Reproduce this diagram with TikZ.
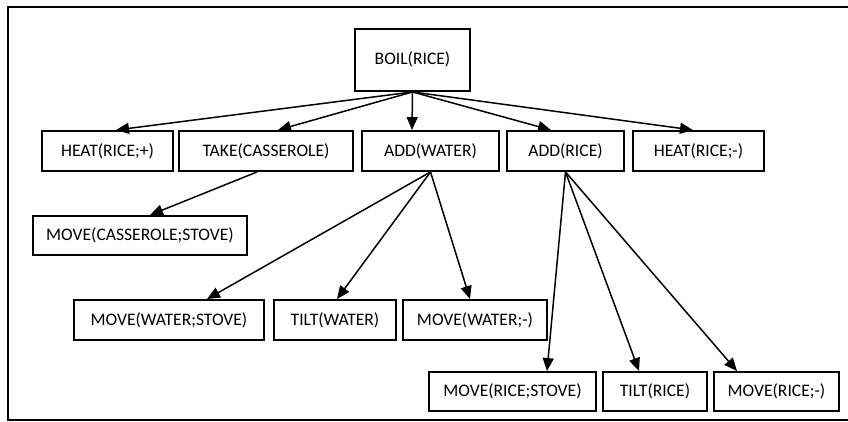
\documentclass[tikz,border=0pt]{standalone}
\usepackage{fontspec}
\setmainfont{Carlito}
\usetikzlibrary{arrows.meta}
\tikzset{>={Triangle[length=0.26cm,width=0.22cm]}}
\tikzset{blk/.style={draw, line width=1.1pt, inner sep=0pt, minimum height=0.8cm, font=\fontsize{10}{12}\selectfont}}

\begin{document}
\begin{tikzpicture}[x=0.02cm, y=-0.02cm]
     \useasboundingbox (0,0) rectangle (848,422);
     \draw[line width=1.1pt] (8,7) rectangle (870,420);
     % top
     \node[blk, minimum width=2.3cm, minimum height=0cm, text height=0.72cm, text depth=0.52cm] (boil) at (412.5,60) {BOIL(RICE)};
     % first row
     \node[blk, minimum width=2.62cm] (heatp) at (107.5,151) {HEAT(RICE;+)};
     \node[blk, minimum width=3.48cm] (take) at (266,151) {TAKE(CASSEROLE)};
     \node[blk, minimum width=2.74cm] (addw) at (430.5,151) {ADD(WATER)};
     \node[blk, minimum width=2.34cm] (addr) at (565.5,151) {ADD(RICE)};
     \node[blk, minimum width=2.62cm] (heatm) at (698.5,151) {HEAT(RICE;-)};
     % second row
     \node[blk, minimum width=4.28cm, minimum height=0.78cm] (movec) at (140,235.5) {MOVE(CASSEROLE;STOVE)};
     % third row
     \node[blk, minimum width=3.8cm] (movews) at (169,320) {MOVE(WATER;STOVE)};
     \node[blk, minimum width=2.44cm] (tiltw) at (335,320) {TILT(WATER)};
     \node[blk, minimum width=2.88cm] (movewm) at (475,320) {MOVE(WATER;-)};
     % fourth row
     \node[blk, minimum width=3.34cm, minimum height=0.78cm] (movers) at (512.5,391.5) {MOVE(RICE;STOVE)};
     \node[blk, minimum width=2.08cm, minimum height=0.78cm] (tiltr) at (655,391.5) {TILT(RICE)};
     \node[blk, minimum width=2.5cm, minimum height=0.78cm] (moverm) at (776.5,391.5) {MOVE(RICE;-)};
     % arrows
     \draw[->, line width=0.85pt] (boil.south) -- ([xshift=0.17cm]heatp.north);
     \draw[->, line width=0.85pt] (boil.south) -- ([xshift=0.24cm]take.north);
     \draw[->, line width=0.85pt] (boil.south) -- ([xshift=-0.37cm]addw.north);
     \draw[->, line width=0.85pt] (boil.south) -- ([xshift=-0.29cm]addr.north);
     \draw[->, line width=0.85pt] (boil.south) -- ([xshift=-0.11cm]heatm.north);
     \draw[->, line width=0.85pt] ([xshift=-0.18cm]take.south) -- ([xshift=0.2cm]movec.north);
     \draw[->, line width=0.85pt] (addw.south) -- ([xshift=0.76cm]movews.north);
     \draw[->, line width=0.85pt] (addw.south) -- ([xshift=0.04cm]tiltw.north);
     \draw[->, line width=0.85pt] (addw.south) -- ([xshift=-0.1cm]movewm.north);
     \draw[->, line width=0.85pt] (addr.south) -- ([xshift=0.69cm]movers.north);
     \draw[->, line width=0.85pt] (addr.south) -- ([xshift=-0.32cm]tiltr.north);
     \draw[->, line width=0.85pt] (addr.south) -- ([xshift=-0.79cm]moverm.north);
\end{tikzpicture}
\end{document}
